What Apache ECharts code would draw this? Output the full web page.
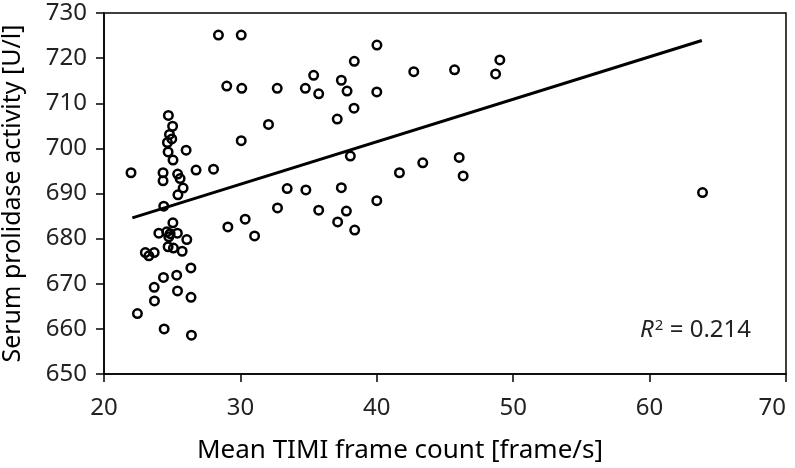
<!DOCTYPE html>
<html>
<head>
<meta charset="utf-8">
<script src="https://cdn.jsdelivr.net/npm/echarts@6/dist/echarts.min.js"></script>
<style>html,body{margin:0;padding:0;background:#fff}#c{width:795px;height:468px}</style>
</head>
<body>
<div id="c"></div>
<script>
// Mean TIMI frame count [frame/s]
const timiX = [
  28.39, 30.06, 29.0, 30.1, 32.7, 34.76, 35.37, 35.74, 37.4, 37.82,
  40.0, 40.01, 38.35, 42.71, 45.7, 49.02, 48.71, 38.33, 37.1, 32.06,
  30.06, 38.06, 46.04, 43.37, 41.66, 46.33, 28.03, 26.75, 21.98, 33.43,
  34.8, 37.4, 40.0, 37.77, 35.74, 32.72, 37.13, 38.38, 30.35, 29.08,
  31.04, 63.88,
  24.72, 25.03, 24.8, 24.97, 24.65, 24.7, 26.02, 25.06, 24.33, 24.33,
  25.4, 25.58, 25.8, 25.42, 24.38, 25.05, 24.02, 24.6, 24.75, 24.85,
  25.38, 26.07, 24.7, 25.09, 25.73, 23.03, 23.29, 23.68, 26.37, 24.36,
  25.33, 23.68, 25.39, 26.38, 23.7, 22.45, 24.41, 26.41
];
// Serum prolidase activity [U/l]
const prolidaseY = [
  725.1, 725.1, 713.8, 713.3, 713.3, 713.3, 716.2, 712.1, 715.1, 712.7,
  712.5, 722.9, 719.3, 717.0, 717.4, 719.6, 716.5, 708.9, 706.5, 705.3,
  701.7, 698.3, 698.0, 696.8, 694.6, 693.9, 695.4, 695.2, 694.6, 691.1,
  690.8, 691.3, 688.4, 686.1, 686.3, 686.8, 683.7, 681.9, 684.3, 682.6,
  680.6, 690.2,
  707.3, 704.9, 703.1, 702.1, 701.3, 699.2, 699.6, 697.4, 694.6, 692.8,
  694.3, 693.3, 691.2, 689.7, 687.2, 683.5, 681.2, 681.5, 680.4, 681.1,
  681.2, 679.8, 678.2, 677.9, 677.2, 676.9, 676.2, 676.9, 673.5, 671.4,
  671.9, 669.2, 668.4, 667.0, 666.2, 663.4, 660.0, 658.6
];
// Regression line endpoints as drawn
const fitX = [22.08, 63.83];
const fitY = [684.6, 723.9];
const r2Label = '0.214';

const FONT = 'Noto Sans';
const points = timiX.map((x, i) => [x, prolidaseY[i]]);
const fit = fitX.map((x, i) => [x, fitY[i]]);

const chart = echarts.init(document.getElementById('c'), null, {renderer: 'canvas'});
chart.setOption({
  animation: false,
  backgroundColor: '#fff',
  grid: {left: 104, right: 9, top: 13, bottom: 94, containLabel: false, outerBoundsMode: 'none',
         show: true, borderColor: '#000', borderWidth: 1.5, backgroundColor: 'transparent'},
  xAxis: {
    type: 'value', min: 20, max: 70, interval: 10,
    name: 'Mean TIMI frame count [frame/s]', nameLocation: 'middle', nameGap: 64,
    nameTextStyle: {fontFamily: FONT, fontSize: 26, color: '#000', padding: [0, 90, 0, 0]},
    axisLine: {lineStyle: {color: '#000', width: 1.5}},
    axisTick: {show: true, length: 8, lineStyle: {color: '#000', width: 1.5}},
    axisLabel: {fontFamily: FONT, fontSize: 24, color: '#222', margin: 22, alignMaxLabel: 'right'},
    splitLine: {show: false}
  },
  yAxis: {
    type: 'value', min: 650, max: 730, interval: 10,
    name: 'Serum prolidase activity [U/l]', nameLocation: 'middle', nameGap: 79,
    nameTextStyle: {fontFamily: FONT, fontSize: 25, color: '#000'},
    axisLine: {lineStyle: {color: '#000', width: 1.5}},
    axisTick: {show: true, length: 8, lineStyle: {color: '#000', width: 1.5}},
    axisLabel: {fontFamily: FONT, fontSize: 24, color: '#222', margin: 17},
    splitLine: {show: false}
  },
  series: [
    {
      type: 'scatter', data: points, symbol: 'circle', symbolSize: 8.5,
      itemStyle: {color: 'rgba(255,255,255,0)', borderColor: '#000', borderWidth: 2.5, opacity: 1}
    },
    {
      type: 'line', data: fit, symbol: 'none', silent: true,
      lineStyle: {color: '#000', width: 3}
    }
  ],
  graphic: [{
    type: 'text', right: 44, top: 318,
    style: {
      text: '{i|R}{s|2}{n| = ' + r2Label + '}',
      rich: {
        i: {fontFamily: FONT, fontSize: 24, fontStyle: 'italic', fill: '#222'},
        s: {fontFamily: FONT, fontSize: 15, fill: '#222', verticalAlign: 'top', padding: [0,0,10,1]},
        n: {fontFamily: FONT, fontSize: 24, fill: '#222'}
      }
    }
  }]
});
</script>
</body>
</html>
